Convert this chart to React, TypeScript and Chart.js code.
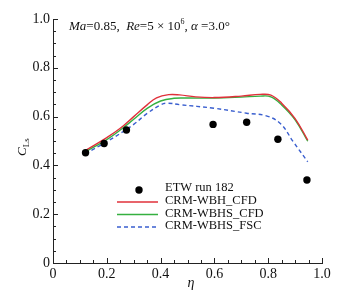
import React, { useEffect, useRef } from "react";
import { Chart, registerables } from "chart.js";

Chart.register(...registerables);

const FONT = '"Liberation Serif", "Times New Roman", serif';

const etwEta = [0.121, 0.19, 0.273, 0.595, 0.72, 0.836, 0.944];
const etwCl = [0.452, 0.49, 0.545, 0.568, 0.577, 0.507, 0.34];

const wbhEta = [0.12, 0.2, 0.25, 0.3, 0.35, 0.385, 0.43, 0.47, 0.53, 0.6, 0.7, 0.77, 0.81, 0.85, 0.9, 0.947];
const wbhCl = [0.461, 0.514, 0.552, 0.6, 0.648, 0.677, 0.69, 0.689, 0.681, 0.678, 0.684, 0.691, 0.688, 0.655, 0.592, 0.504];

const wbhsEta = [0.12, 0.2, 0.25, 0.3, 0.35, 0.4, 0.45, 0.5, 0.6, 0.7, 0.77, 0.81, 0.85, 0.9, 0.947];
const wbhsCl = [0.455, 0.506, 0.545, 0.589, 0.634, 0.664, 0.675, 0.676, 0.676, 0.68, 0.684, 0.681, 0.648, 0.587, 0.499];

const fscEta = [0.12, 0.2, 0.26, 0.3, 0.35, 0.4, 0.425, 0.47, 0.6, 0.72, 0.79, 0.845, 0.893, 0.947];
const fscCl = [0.448, 0.497, 0.538, 0.568, 0.613, 0.648, 0.655, 0.649, 0.634, 0.614, 0.604, 0.572, 0.497, 0.415];

const seriesNames = ["ETW run 182", "CRM-WBH_CFD", "CRM-WBHS_CFD", "CRM-WBHS_FSC"];
const axisTicks = [0, 0.2, 0.4, 0.6, 0.8, 1.0];

const zip = (xs: number[], ys: number[]) => xs.map((x, i) => ({ x, y: ys[i] }));

const decorPlugin = {
  id: "decor",
  afterDraw(chart: any) {
    const ctx = chart.ctx as CanvasRenderingContext2D;
    const xs = chart.scales.x;
    const ys = chart.scales.y;
    const area = chart.chartArea;
    ctx.save();
    ctx.strokeStyle = "#222";
    ctx.lineWidth = 1;
    for (let i = 0; i <= 20; i++) {
      const v = i * 0.05;
      const major = i % 4 === 0;
      const len = major ? 5 : 3;
      const px = Math.round(xs.getPixelForValue(v)) + 0.5;
      ctx.beginPath();
      ctx.moveTo(px, area.bottom);
      ctx.lineTo(px, area.bottom - len);
      ctx.stroke();
      const py = Math.round(ys.getPixelForValue(v)) + 0.5;
      ctx.beginPath();
      ctx.moveTo(area.left, py);
      ctx.lineTo(area.left + len, py);
      ctx.stroke();
    }

    ctx.fillStyle = "#111";
    ctx.textBaseline = "alphabetic";
    let x = 69;
    const by = 30;
    const put = (t: string, style: string, size: number, dy = 0) => {
      ctx.font = `${style} ${size}px ${FONT}`;
      ctx.fillText(t, x, by + dy);
      x += ctx.measureText(t).width;
    };
    put("Ma", "italic", 13);
    put("=0.85,  ", "normal", 13);
    put("Re", "italic", 13);
    put("=5 × 10", "normal", 13);
    put("6", "normal", 8, -6);
    put(", ", "normal", 13);
    put("α", "italic", 13);
    put(" =3.0°", "normal", 13);

    ctx.font = `italic 14px ${FONT}`;
    ctx.textAlign = "center";
    ctx.fillText("η", 191, 287);

    ctx.save();
    ctx.translate(26, 156);
    ctx.rotate(-Math.PI / 2);
    ctx.textAlign = "left";
    ctx.font = `italic 13px ${FONT}`;
    ctx.fillText("C", 0, 0);
    const cw = ctx.measureText("C").width;
    ctx.font = `normal 9px ${FONT}`;
    ctx.fillText("Ls", cw, 3);
    ctx.restore();

    const ds = chart.data.datasets;
    const rows = [188, 201, 213.5, 226];
    ctx.textAlign = "left";
    ctx.textBaseline = "middle";
    ctx.font = `normal 12.5px ${FONT}`;
    ds.forEach((d: any, i: number) => {
      const y = rows[i];
      if (i === 0) {
        ctx.beginPath();
        ctx.fillStyle = d.backgroundColor;
        ctx.arc(139, y + 2, 3.7, 0, Math.PI * 2);
        ctx.fill();
      } else {
        ctx.beginPath();
        ctx.strokeStyle = d.borderColor;
        ctx.lineWidth = d.borderWidth;
        ctx.setLineDash(d.borderDash || []);
        ctx.moveTo(117, y + 1);
        ctx.lineTo(158, y + 1);
        ctx.stroke();
        ctx.setLineDash([]);
      }
      ctx.fillStyle = "#111";
      ctx.fillText(seriesNames[i], 165, y);
    });
    ctx.restore();
  },
};

export default function App() {
  const ref = useRef<HTMLCanvasElement | null>(null);
  useEffect(() => {
    document.body.style.margin = "0";
    const canvas = ref.current!;
    const tickFmt = (v: any) => {
      const n = Number(v);
      return n === 0 ? "0" : n.toFixed(1);
    };
    const lineBase = { showLine: true, pointRadius: 0, borderWidth: 1.4, tension: 0.4 };
    const chart = new Chart(canvas, {
      type: "scatter",
      data: {
        datasets: [
          {
            label: seriesNames[0],
            data: zip(etwEta, etwCl),
            showLine: false,
            pointRadius: 3.7,
            backgroundColor: "#000",
            borderColor: "#000",
            borderWidth: 0,
          },
          {
            ...lineBase,
            label: seriesNames[1],
            data: zip(wbhEta, wbhCl),
            borderColor: "#e0303a",
            backgroundColor: "#e0303a",
          },
          {
            ...lineBase,
            label: seriesNames[2],
            data: zip(wbhsEta, wbhsCl),
            borderColor: "#35b040",
            backgroundColor: "#35b040",
          },
          {
            ...lineBase,
            label: seriesNames[3],
            data: zip(fscEta, fscCl),
            borderColor: "#3a5fcf",
            backgroundColor: "#3a5fcf",
            borderDash: [4, 3],
          },
        ] as any,
      },
      options: {
        animation: false,
        responsive: false,
        maintainAspectRatio: false,
        layout: { padding: { left: 0, top: 19, right: 23, bottom: 0 } },
        plugins: { legend: { display: false }, tooltip: { enabled: false } },
        scales: {
          x: {
            type: "linear",
            min: 0,
            max: 1,
            afterBuildTicks: (s: any) => {
              s.ticks = axisTicks.map((v) => ({ value: v }));
            },
            afterFit: (s: any) => {
              s.height = 31;
            },
            grid: { display: false, drawTicks: false },
            border: { display: true, color: "#222", width: 1 },
            ticks: {
              padding: 3,
              color: "#111",
              font: { family: FONT, size: 14 },
              callback: tickFmt,
              maxRotation: 0,
            },
          },
          y: {
            type: "linear",
            min: 0,
            max: 1,
            afterBuildTicks: (s: any) => {
              s.ticks = axisTicks.map((v) => ({ value: v }));
            },
            afterFit: (s: any) => {
              s.width = 53;
            },
            grid: { display: false, drawTicks: false },
            border: { display: true, color: "#222", width: 1 },
            ticks: {
              padding: 3,
              color: "#111",
              font: { family: FONT, size: 14 },
              callback: tickFmt,
            },
          },
        },
      },
      plugins: [decorPlugin],
    });
    return () => chart.destroy();
  }, []);
  return (
    <div style={{ width: 345, height: 294 }}>
      <canvas ref={ref} width={345} height={294} style={{ display: "block" }} />
    </div>
  );
}
